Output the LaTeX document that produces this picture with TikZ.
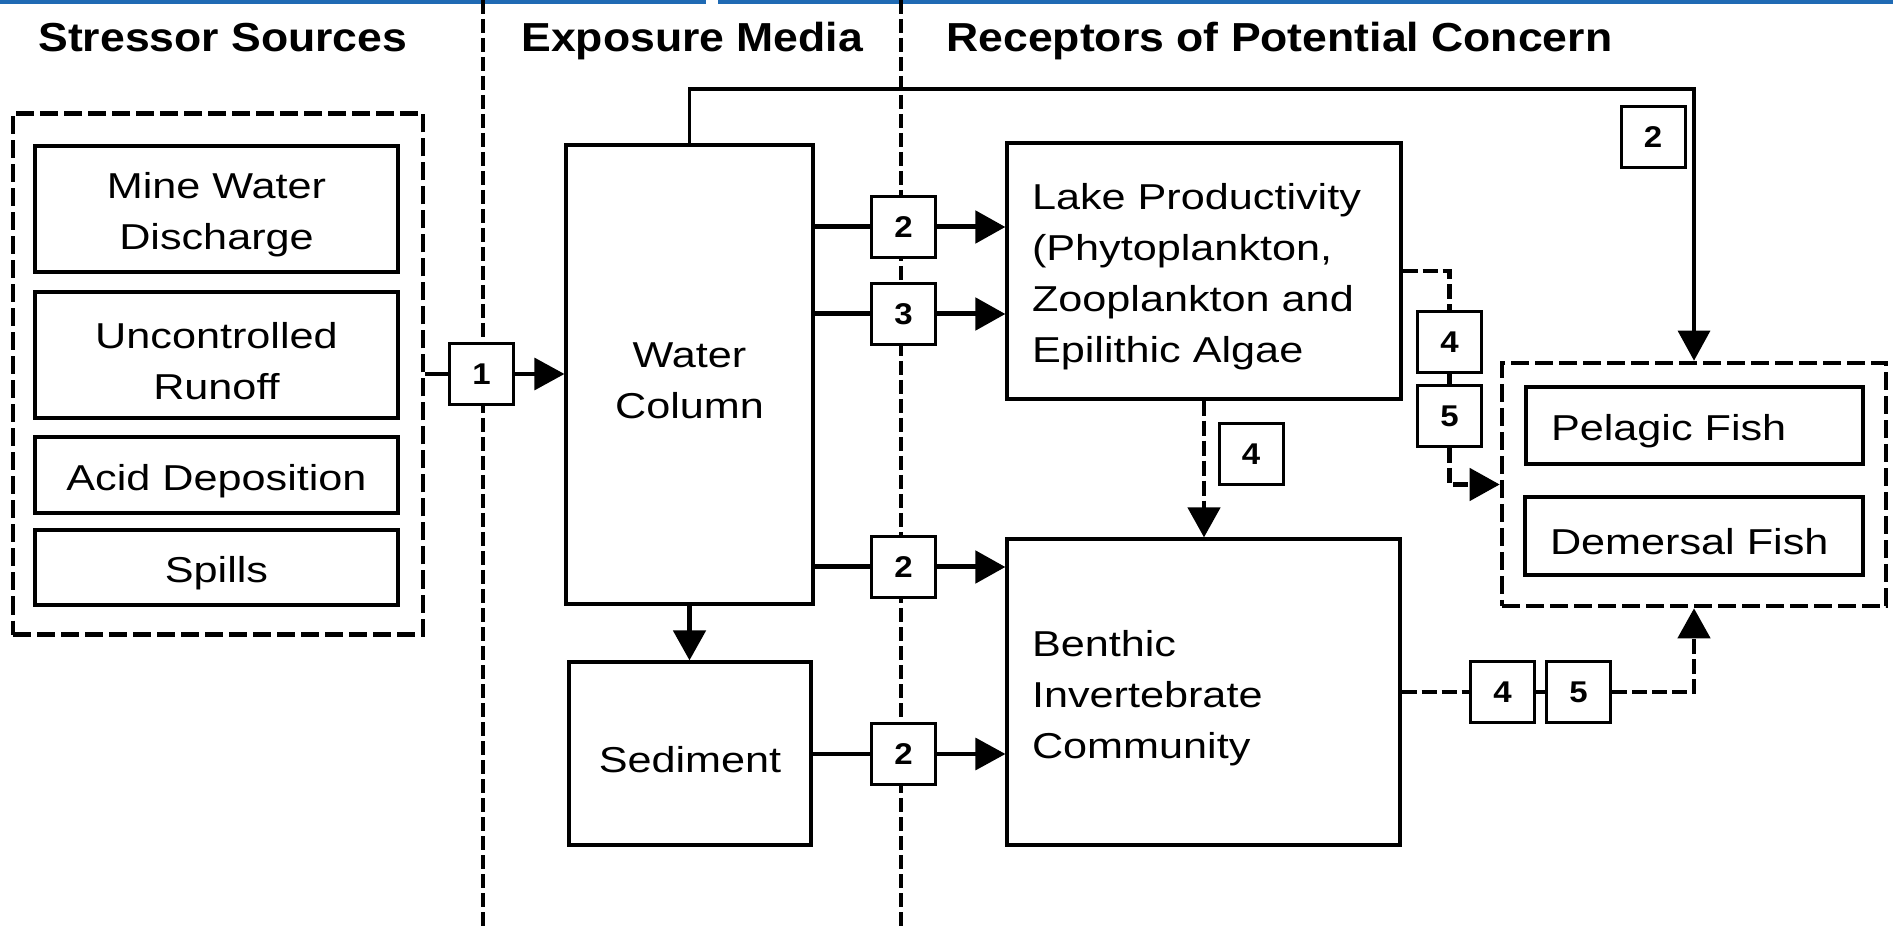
\documentclass[tikz,border=0pt]{standalone}
\usepackage{fontspec}
\setmainfont{Liberation Sans}
\newfontfamily\bodyfont[FakeStretch=1.2]{Liberation Sans}
\newfontfamily\headfont[FakeStretch=1.1]{Liberation Sans}
\usetikzlibrary{arrows.meta}
\definecolor{barblue}{RGB}{31,106,180}
\newcommand{\lineup}{\rule{0pt}{19pt}}
\tikzstyle{head} = [anchor=base west, inner sep=0pt, font=\headfont\bfseries\fontsize{20.25}{24}\selectfont]
\tikzstyle{bag} = [draw, line width=1.6pt, fill=white, inner sep=0pt, align=center, font=\bodyfont\fontsize{18}{25.5}\selectfont, execute at begin node={\lineup}]
\tikzstyle{leftbag} = [bag, align=left, inner xsep=12.5pt]
\tikzstyle{group} = [draw, line width=2.3pt, dash pattern=on 9pt off 3pt, inner sep=0pt]
\tikzstyle{num} = [draw, line width=1.5pt, fill=white, inner sep=0pt, minimum width=32pt, minimum height=30.5pt, font=\headfont\bfseries\fontsize{15}{15}\selectfont]
\tikzstyle{link} = [line width=1.6pt]
\tikzstyle{heavy} = [line width=2.5pt]
\tikzstyle{dsh} = [line width=2.3pt, dash pattern=on 7.5pt off 2.5pt]
\tikzstyle{divider} = [line width=1.9pt, dash pattern=on 7pt off 2.5pt]

\begin{document}
\begin{tikzpicture}[x=0.5pt, y=-0.5pt, >={Triangle[length=15pt,width=16pt]}]
  \path[use as bounding box, fill=white] (0,0) rectangle (1893,929);
  \fill[barblue] (0,0) rectangle (706,4);
  \fill[barblue] (718,0) rectangle (1893,4);
  \draw[divider] (483,0) -- (483,929);
  \draw[divider] (901,0) -- (901,929);
  \node (h1) at (38,52) [head] {Stressor Sources};
  \node (h2) at (521,52) [head] {Exposure Media};
  \node (h3) at (946,52) [head] {Receptors of Potential Concern};
  \node (src) at (218,374) [group, minimum width=205pt, minimum height=260.5pt] {};
  \node (mwd) at (216.5,209) [bag, minimum width=181.5pt, minimum height=63pt] {\lineup Mine Water\\Discharge};
  \node (ur) at (216.5,355) [bag, minimum width=181.5pt, minimum height=63pt] {\lineup Uncontrolled\\Runoff};
  \node (ad) at (216.5,475) [bag, minimum width=181.5pt, minimum height=38pt] {Acid Deposition};
  \node (sp) at (216.5,567.5) [bag, minimum width=181.5pt, minimum height=37.5pt] {Spills};
  \node (wc) at (689.5,374.5) [bag, minimum width=123.5pt, minimum height=229.5pt] {\lineup Water\\Column};
  \node (sed) at (690,753.5) [bag, minimum width=121pt, minimum height=91.5pt] {Sediment};
  \node (lp) at (1204,271) [leftbag, text width=172pt, minimum height=128pt] {Lake Productivity\\(Phytoplankton,\\Zooplankton and\\Epilithic Algae};
  \node (bic) at (1203.5,692) [leftbag, text width=171.5pt, minimum height=153pt] {Benthic\\Invertebrate\\Community};
  \node (fish) at (1694,484.5) [group, minimum width=192pt, minimum height=121.5pt] {};
  \node (pf) at (1694.5,425.5) [leftbag, text width=143.5pt, minimum height=38.5pt] {Pelagic Fish};
  \node (df) at (1694,536) [leftbag, text width=144pt, minimum height=39pt] {Demersal Fish};
  \node (n1) at (481.5,374) [num] {1};
  \node (n2a) at (903.5,227) [num] {2};
  \node (n3) at (903.5,314) [num] {3};
  \node (n2b) at (903.5,567) [num] {2};
  \node (n2c) at (903.5,754) [num] {2};
  \node (n2d) at (1653,137) [num] {2};
  \node (n4a) at (1449.5,342.5) [num] {4};
  \node (n5a) at (1449.5,416) [num] {5};
  \node (n4b) at (1251,454.5) [num] {4};
  \node (n4c) at (1502.5,692) [num] {4};
  \node (n5c) at (1578.5,692) [num] {5};
  \coordinate (route) at (1694,89);
  \draw [link] (src) -- (n1);
  \draw [link,->] (n1) -- (n1 -| wc.west);
  \draw [heavy] (wc.east |- n2a) -- (n2a);
  \draw [heavy,->] (n2a) -- (n2a -| lp.west);
  \draw [heavy] (wc.east |- n3) -- (n3);
  \draw [heavy,->] (n3) -- (n3 -| lp.west);
  \draw [heavy] (wc.east |- n2b) -- (n2b);
  \draw [heavy,->] (n2b) -- (n2b -| bic.west);
  \draw [heavy,->] (wc.south) -- (wc.south |- sed.north);
  \draw [link] (sed.east |- n2c) -- (n2c);
  \draw [link,->] (n2c) -- (n2c -| bic.west);
  \draw [link,->] (wc.north) |- (route) -- (fish.north);
  \draw [dsh] (lp.east) -| (n4a.north);
  \draw [dsh] (n4a) -- (n5a);
  \draw [dsh,->] (n5a.south) |- (fish.west);
  \draw [dsh,->] (lp.south) -- (lp.south |- bic.north);
  \draw [dsh] (bic.east |- n4c) -- (n4c);
  \draw [dsh] (n4c) -- (n5c);
  \draw [dsh,->] (n5c) -| (fish.south);
\end{tikzpicture}
\end{document}
